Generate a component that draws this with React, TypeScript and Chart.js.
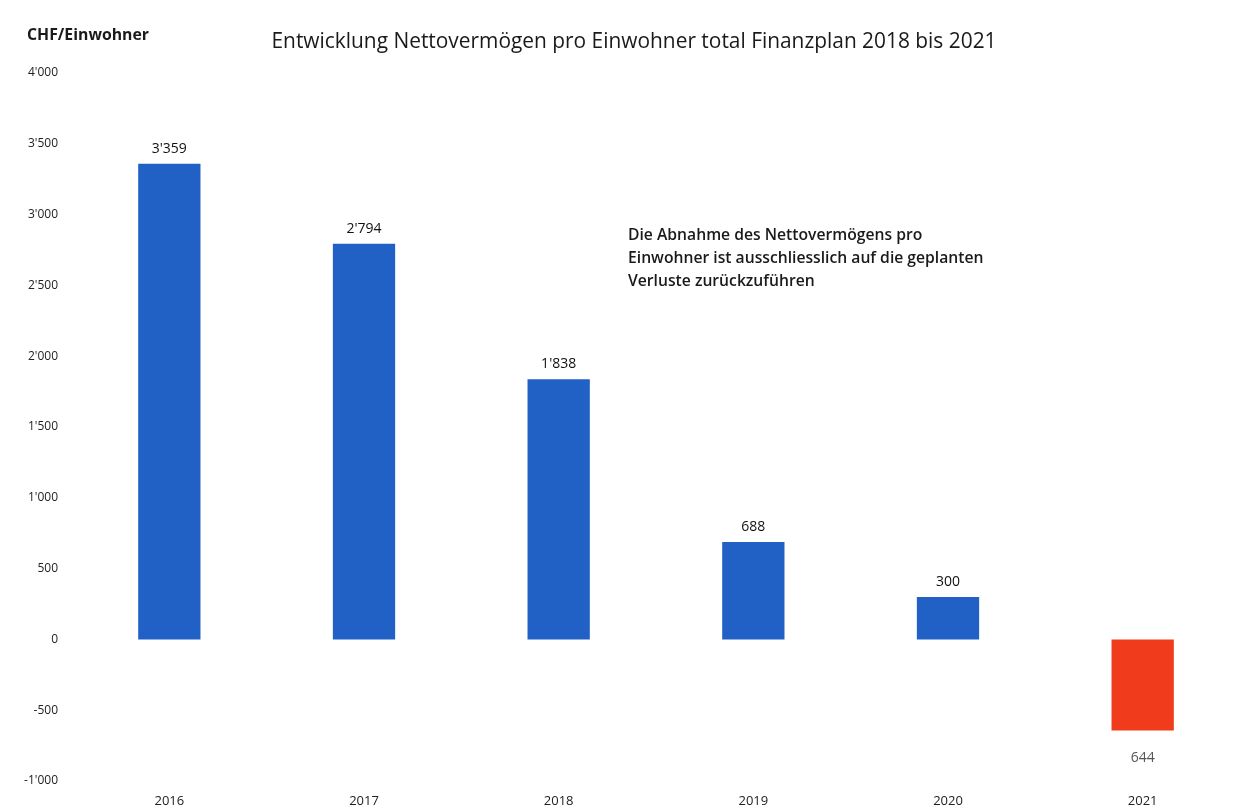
import React, { useEffect, useRef } from "react";
import { Chart, registerables } from "chart.js";

Chart.register(...registerables);

const years = ["2016", "2017", "2018", "2019", "2020", "2021"];
const values = [3359, 2794, 1838, 688, 300, -644];
const positiveColor = "#2161c6";
const negativeColor = "#f03c1c";
const yMin = -1000;
const yMax = 4000;
const yStep = 500;
const titleText = "Entwicklung Nettovermögen pro Einwohner total Finanzplan 2018 bis 2021";
const unitText = "CHF/Einwohner";
const noteLines = [
  "Die Abnahme des Nettovermögens pro",
  "Einwohner ist ausschliesslich auf die geplanten",
  "Verluste zurückzuführen",
];

const FONT = "'Open Sans', 'Noto Sans', sans-serif";

function fmt(v: number): string {
  const s = Math.abs(Math.round(v))
    .toString()
    .replace(/\B(?=(\d{3})+(?!\d))/g, "'");
  return (v < 0 ? "-" : "") + s;
}

const overlayPlugin = {
  id: "overlay",
  afterDatasetsDraw(chart: any) {
    const ctx = chart.ctx;
    ctx.save();
    // title
    ctx.fillStyle = "#1a1a1a";
    ctx.font = `500 20.9px ${FONT}`;
    ctx.textAlign = "center";
    ctx.textBaseline = "middle";
    ctx.fillText(titleText, 634, 42);
    // unit label
    ctx.font = `bold 15.8px ${FONT}`;
    ctx.textAlign = "left";
    ctx.fillText(unitText, 27, 35);
    // note
    ctx.font = `600 15.7px ${FONT}`;
    noteLines.forEach((l, i) => ctx.fillText(l, 628, 236 + i * 23));
    // data labels
    const meta = chart.getDatasetMeta(0);
    ctx.textAlign = "center";
    ctx.font = `14px ${FONT}`;
    meta.data.forEach((bar: any, i: number) => {
      const v = values[i];
      if (v >= 0) {
        ctx.fillStyle = "#111";
        ctx.fillText(fmt(v), bar.x, bar.y - 15);
      } else {
        ctx.fillStyle = "#555";
        ctx.fillText(fmt(Math.abs(v)), bar.x, bar.y + 27);
      }
    });
    ctx.restore();
  },
};

export default function App() {
  const ref = useRef<HTMLCanvasElement | null>(null);
  useEffect(() => {
    document.body.style.margin = "0";
    const canvas = ref.current!;
    const chart = new Chart(canvas, {
      type: "bar",
      data: {
        labels: years,
        datasets: [
          {
            data: values,
            backgroundColor: values.map((v) => (v < 0 ? negativeColor : positiveColor)),
            categoryPercentage: 1,
            barPercentage: 0.32,
          },
        ],
      },
      options: {
        responsive: false,
        animation: false,
        layout: { padding: { top: 73, right: 6, left: 0, bottom: 0 } },
        plugins: {
          legend: { display: false },
          title: { display: false },
          tooltip: { enabled: false },
        },
        scales: {
          x: {
            grid: { display: false, drawTicks: false },
            border: { display: false },
            ticks: {
              color: "#222",
              font: { family: FONT, size: 13 },
              padding: 12,
            },
            afterFit(scale: any) {
              scale.height = 28;
            },
          },
          y: {
            min: yMin,
            max: yMax,
            grid: { display: false, drawTicks: false },
            border: { display: false },
            ticks: {
              stepSize: yStep,
              color: "#222",
              font: { family: FONT, size: 12 },
              padding: 14,
              callback: (v: any) => fmt(Number(v)),
            },
            afterFit(scale: any) {
              scale.width = 72;
            },
          },
        },
      },
      plugins: [overlayPlugin],
    });
    return () => chart.destroy();
  }, []);
  return <canvas ref={ref} width={1246} height={809} style={{ display: "block" }} />;
}
